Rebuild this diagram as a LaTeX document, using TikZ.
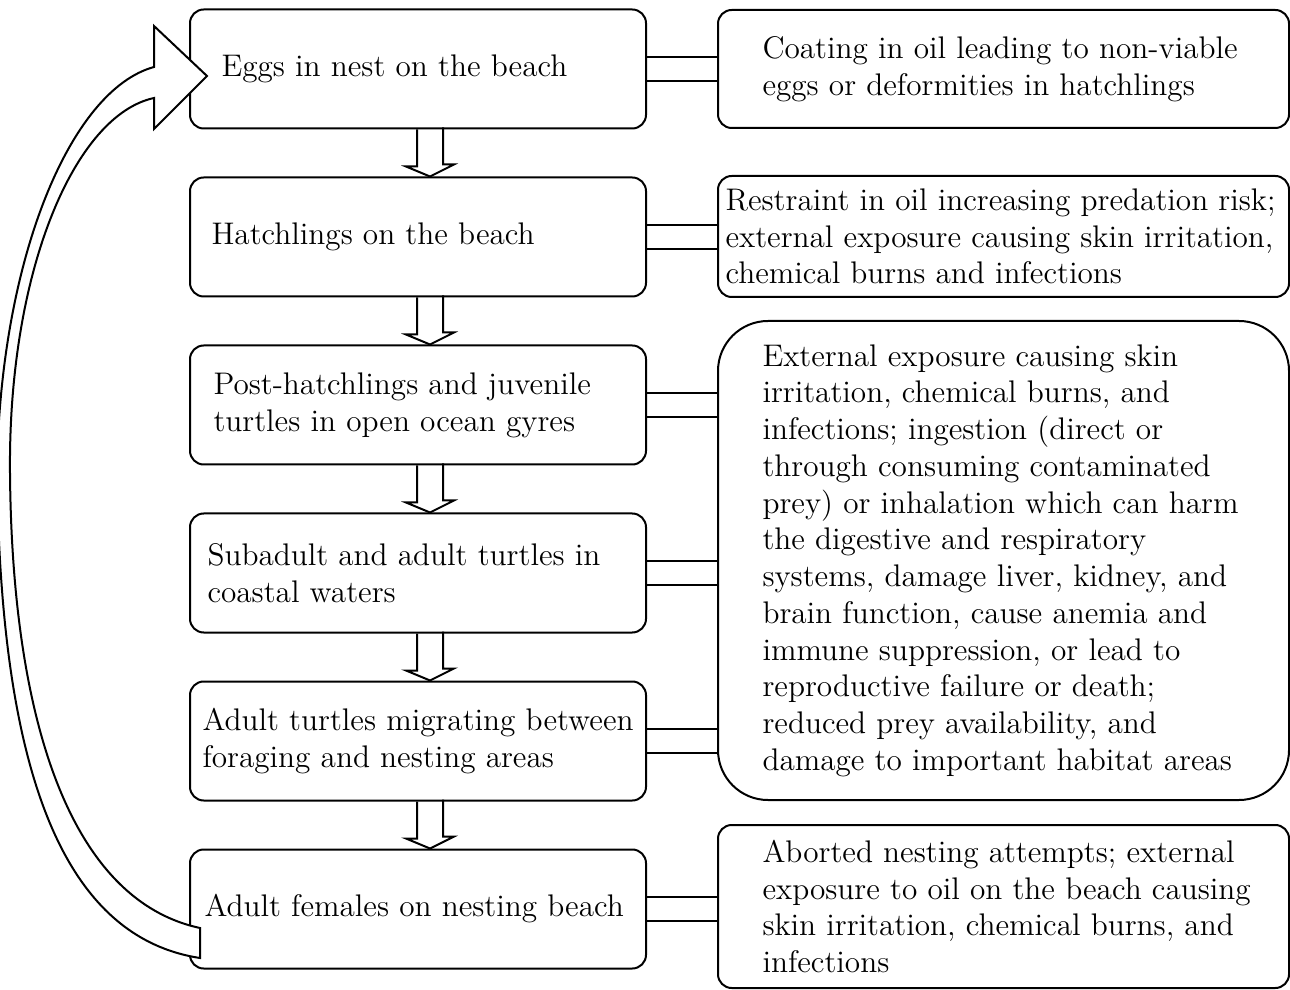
\documentclass[tikz,border=0pt]{standalone}
\usetikzlibrary{positioning}

\begin{document}
\begin{tikzpicture}[x=0.4pt, y=-0.4pt,
    stagebox/.style={draw, thick, rounded corners=5.5pt, minimum width=182.4pt, minimum height=47.6pt, inner sep=0pt},
    effectbox/.style={draw, thick, rounded corners=5.5pt, minimum width=228.4pt, inner sep=0pt},
    words/.style={inner sep=0pt, align=left, font=\fontsize{12.5}{14.7}\selectfont},
    link/.style={thick},
    hollowdown/.style={thick}]

    \useasboundingbox (0,0) rectangle (1290,990);

    % life stages on the left
    \node[stagebox] (l1) at (418,69) {};
    \node[stagebox] (l2) at (418,237) {};
    \node[stagebox] (l3) at (418,405) {};
    \node[stagebox] (l4) at (418,573) {};
    \node[stagebox] (l5) at (418,741) {};
    \node[stagebox] (l6) at (418,909) {};

    \node[words, right=12.8pt of l1.west] {Eggs in nest on the beach};
    \node[words, right=8.8pt of l2.west] {Hatchlings on the beach};
    \node[words, right=9.6pt of l3.west] {Post-hatchlings and juvenile\\turtles in open ocean gyres};
    \node[words, right=7.2pt of l4.west] {Subadult and adult turtles in\\coastal waters};
    \node[words, right=5.2pt of l5.west] {Adult turtles migrating between\\foraging and nesting areas};
    \node[words, right=6pt of l6.west] {Adult females on nesting beach};

    % oil effects on the right
    \node[effectbox, minimum height=47.2pt] (r1) at (1003.5,69) {};
    \node[effectbox, minimum height=48.4pt] (r2) at (1003.5,236.5) {};
    \node[effectbox, minimum height=191.6pt, rounded corners=20pt] (r3) at (1003.5,560.5) {};
    \node[effectbox, minimum height=65.2pt] (r4) at (1003.5,906.5) {};

    \node[words, right=18pt of r1.west] {Coating in oil leading to non-viable\\eggs or deformities in hatchlings};
    \node[words, right=3.2pt of r2.west] {Restraint in oil increasing predation risk;\\external exposure causing skin irritation,\\chemical burns and infections};
    \node[words, right=18pt of r3.west] {External exposure causing skin\\irritation, chemical burns, and\\infections; ingestion (direct or\\through consuming contaminated\\prey) or inhalation which can harm\\the digestive and respiratory\\systems, damage liver, kidney, and\\brain function, cause anemia and\\immune suppression, or lead to\\reproductive failure or death;\\reduced prey availability, and\\damage to important habitat areas};
    \node[words, right=18pt of r4.west] {Aborted nesting attempts; external\\exposure to oil on the beach causing\\skin irritation, chemical burns, and\\infections};

    % double lines between stage and effect
    \foreach \a/\b in {l1/r1, l2/r2, l3/r3, l4/r3, l5/r3, l6/r4} {
        \draw[link] ([yshift=4.8pt]\a.east) -- ([yshift=4.8pt]\a.east -| \b.west);
        \draw[link] ([yshift=-4.8pt]\a.east) -- ([yshift=-4.8pt]\a.east -| \b.west);
    }

    % hollow arrows down the stages
    \foreach \a/\b in {l1/l2, l2/l3, l3/l4, l4/l5, l5/l6}
        \draw[hollowdown] (\a.south) ++(-1,0) -- ++(0,37) -- ++(-11,0) -- ([xshift=4.8pt]\b.north) -- ++(24,-12) -- ++(-11,0) -- ++(0,-37);

    % curved arrow back to the eggs
    \draw[thick, fill=white] (200,958) .. controls (50,935) and (0,740) .. (-3,470)
        .. controls (0,260) and (70,90) .. (154,67) -- (154,26) -- (207,76) -- (154,129) -- (154,98)
        .. controls (75,115) and (8,270) .. (10,473) .. controls (12,720) and (70,900) .. (200,928) -- cycle;

\end{tikzpicture}
\end{document}
